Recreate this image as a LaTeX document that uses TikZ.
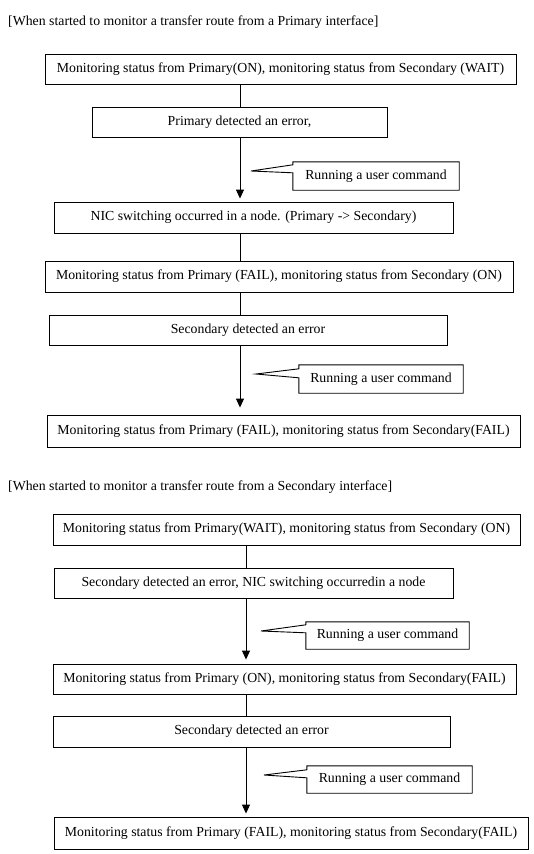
\documentclass[tikz,border=0pt]{standalone}
\usepackage{fontspec}
\setmainfont{Liberation Serif}
\usetikzlibrary{arrows.meta}
\begin{document}
\begin{tikzpicture}[x=1pt,y=-1pt,
  every node/.style={font=\fontsize{13.8}{16}\selectfont},
  box/.style={draw, line width=0.9pt, inner sep=0pt, fill=white},
  ctext/.style={inner sep=0pt},
  cline/.style={line width=0.9pt, fill=white},
  conn/.style={line width=0.9pt},
  arr/.style={line width=0.9pt, -{Triangle[width=8pt,length=9pt]}},
  title/.style={anchor=west, inner sep=0pt}]
\fill[white] (0,0) rectangle (533,854);
\useasboundingbox (0,0) rectangle (533,854);

% ---- Part A ----
\node[title] (ta) at (8,22) {[When started to monitor a transfer route from a Primary interface]};
\coordinate (sa) at (240,0);
\node[box, minimum width=471pt, minimum height=30pt] (a1) at (280.5,69) {Monitoring status from Primary(ON), monitoring status from Secondary (WAIT)};
\node[box, minimum width=295pt, minimum height=30pt] (a2) at (239.5,122) {Primary detected an error,};
\node[box, minimum width=399pt, minimum height=31pt] (a3) at (253.5,217.5) {NIC switching occurred in a node. (Primary -> Secondary)};
\node[box, minimum width=468pt, minimum height=31pt] (a4) at (279,276.5) {Monitoring status from Primary (FAIL), monitoring status from Secondary (ON)};
\node[box, minimum width=398pt, minimum height=30pt] (a5) at (248,330) {Secondary detected an error};
\node[box, minimum width=473pt, minimum height=32pt] (a6) at (283.5,431) {Monitoring status from Primary (FAIL), monitoring status from Secondary(FAIL)};

\draw[conn] (a1.south -| sa) -- (a2.north -| sa);
\draw[arr] (a2.south -| sa) -- ([yshift=3pt]a3.north -| sa);
\draw[conn] (a3.south -| sa) -- (a4.north -| sa);
\draw[conn] (a4.south -| sa) -- (a5.north -| sa);
\draw[arr] (a5.south -| sa) -- ([yshift=7pt]a6.north -| sa);

% callout 1
\node[ctext, minimum width=166pt, minimum height=28pt] (c1) at (376,176) {};
\coordinate (c1t) at (251,171);
\draw[cline] (c1t) -- ([yshift=-3pt]c1.north west) -- (c1.north west) -- (c1.north east) -- (c1.south east) -- (c1.south west) -- ([yshift=-11pt]c1.north west) -- cycle;
\node[ctext] (c1l) at (c1) {Running a user command};

% callout 2
\node[ctext, minimum width=164pt, minimum height=28pt] (c2) at (381,379) {};
\coordinate (c2t) at (256,374);
\draw[cline] (c2t) -- ([yshift=-4pt]c2.north west) -- (c2.north west) -- (c2.north east) -- (c2.south east) -- (c2.south west) -- ([yshift=-13pt]c2.north west) -- cycle;
\node[ctext] (c2l) at (c2) {Running a user command};

% ---- Part B ----
\node[title] (tb) at (8,487) {[When started to monitor a transfer route from a Secondary interface]};
\coordinate (sb) at (246,0);
\node[box, minimum width=467pt, minimum height=31pt] (b1) at (286.5,529.5) {Monitoring status from Primary(WAIT), monitoring status from Secondary (ON)};
\node[box, minimum width=399pt, minimum height=30pt] (b2) at (253.5,583) {Secondary detected an error, NIC switching occurredin a node};
\node[box, minimum width=463pt, minimum height=30pt] (b3) at (284.5,679) {Monitoring status from Primary (ON), monitoring status from Secondary(FAIL)};
\node[box, minimum width=397pt, minimum height=31pt] (b4) at (251.5,731.5) {Secondary detected an error};
\node[box, minimum width=474pt, minimum height=32pt] (b5) at (291,833) {Monitoring status from Primary (FAIL), monitoring status from Secondary(FAIL)};

\draw[conn] (b1.south -| sb) -- (b2.north -| sb);
\draw[arr] (b2.south -| sb) -- ([yshift=4pt]b3.north -| sb);
\draw[conn] (b3.south -| sb) -- (b4.north -| sb);
\draw[arr] (b4.south -| sb) -- ([yshift=3pt]b5.north -| sb);

% callout 3
\node[ctext, minimum width=163pt, minimum height=27pt] (c3) at (387.5,635.5) {};
\coordinate (c3t) at (261,631);
\draw[cline] (c3t) -- ([yshift=-3pt]c3.north west) -- (c3.north west) -- (c3.north east) -- (c3.south east) -- (c3.south west) -- ([yshift=-11pt]c3.north west) -- cycle;
\node[ctext] (c3l) at (c3) {Running a user command};

% callout 4
\node[ctext, minimum width=165pt, minimum height=27pt] (c4) at (389.5,779.5) {};
\coordinate (c4t) at (264,775);
\draw[cline] (c4t) -- ([yshift=-4pt]c4.north west) -- (c4.north west) -- (c4.north east) -- (c4.south east) -- (c4.south west) -- ([yshift=-12pt]c4.north west) -- cycle;
\node[ctext] (c4l) at (c4) {Running a user command};
\end{tikzpicture}
\end{document}
